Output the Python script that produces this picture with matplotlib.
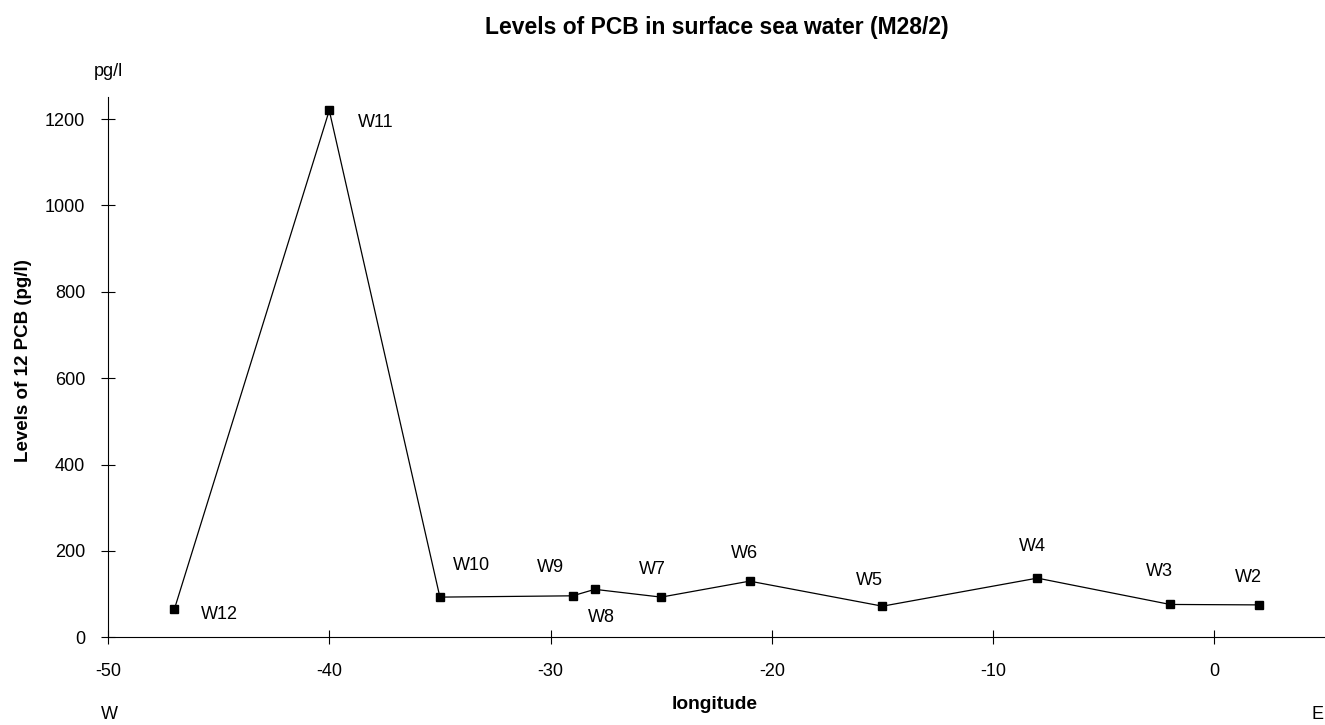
import matplotlib
matplotlib.use("Agg")
import matplotlib.pyplot as plt

plt.rcParams["font.family"] = ["Liberation Sans", "DejaVu Sans"]
plt.rcParams["axes.unicode_minus"] = False

# stations along the cruise track
stations = ["W12", "W11", "W10", "W9", "W8", "W7", "W6", "W5", "W4", "W3", "W2"]
longitude = [-47, -40, -35, -29, -28, -25, -21, -15, -8, -2, 2]
pcb_levels = [65, 1220, 93, 96, 111, 93, 130, 72, 137, 76, 75]

x_ticks = [-50, -40, -30, -20, -10, 0]
y_ticks = [0, 200, 400, 600, 800, 1000, 1200]

# label offsets in pixels (dx, dy) from each marker
label_offsets = {
    "W12": (45, -5), "W11": (46, -12), "W10": (32, 32), "W9": (-22, 28),
    "W8": (7, -28), "W7": (-9, 28), "W6": (-5, 28), "W5": (-13, 26),
    "W4": (-5, 32), "W3": (-11, 33), "W2": (-10, 27),
}

fig = plt.figure(figsize=(13.25, 7.25), dpi=100)
ax = fig.add_axes([0.0815, 0.121, 0.9185, 0.7457])

ax.plot(longitude, pcb_levels, color="black", linewidth=0.9,
        marker="s", markersize=6, markerfacecolor="black", markeredgecolor="black")

for name, x, y in zip(stations, longitude, pcb_levels):
    dx, dy = label_offsets[name]
    ax.annotate(name, (x, y), xytext=(dx, dy), textcoords="offset pixels",
                ha="center", va="center", fontsize=13)

ax.set_xlim(-50, 5)
ax.set_ylim(0, 1252)
ax.set_xticks(x_ticks)
ax.set_yticks(y_ticks)
ax.tick_params(direction="inout", length=10, width=0.8, labelsize=13)
ax.tick_params(axis="x", pad=13.5)
ax.tick_params(axis="y", pad=11.5)

# hide spines
ax.spines["top"].set_visible(False)
ax.spines["right"].set_visible(False)
ax.spines["left"].set_linewidth(0.8)
ax.spines["bottom"].set_linewidth(0.8)

fig.text(0.0174, 0.503, "Levels of 12 PCB (pg/l)", rotation=90, ha="center", va="center",
         fontsize=13.5, fontweight="bold")
fig.text(0.5396, 0.028, "longitude", ha="center", va="center", fontsize=13.8, fontweight="bold")
fig.text(0.5408, 0.962, "Levels of PCB in surface sea water (M28/2)", ha="center", va="center",
         fontsize=16.5, fontweight="bold")
fig.text(0.0815, 0.901, "pg/l", ha="center", va="center", fontsize=13)
fig.text(0.0823, 0.014, "W", ha="center", va="center", fontsize=13)
fig.text(0.9985, 0.014, "E", ha="right", va="center", fontsize=13)

fig.savefig("out.png", dpi=100)
